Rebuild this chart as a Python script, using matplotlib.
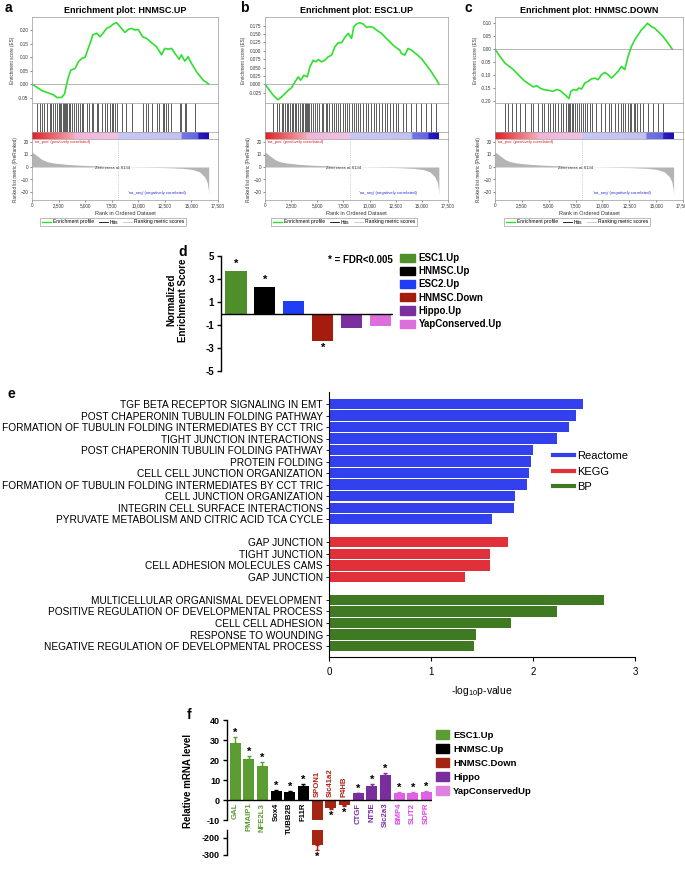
import matplotlib
matplotlib.use("Agg")
import matplotlib.pyplot as plt
import numpy as np
from matplotlib.colors import LinearSegmentedColormap
from matplotlib.lines import Line2D
from matplotlib.patches import Patch

plt.rcParams["font.family"] = ["Liberation Sans", "DejaVu Sans"]
plt.rcParams["mathtext.default"] = "regular"

W, H = 685, 874

# ---------------- panels a-c: GSEA enrichment plots ----------------
GSEA_TITLES = ["Enrichment plot: HNMSC.UP", "Enrichment plot: ESC1.UP",
               "Enrichment plot: HNMSC.DOWN"]

RANK_A = [0, 469, 938, 1406, 2031, 2344, 2813, 3063, 3281, 3438, 3656, 4063,
          4375, 4688, 5000, 5219, 5469, 5719, 6094, 6406, 6719, 7031, 7344,
          7656, 7969, 8281, 8750, 9063, 9375, 9688, 10000, 10406, 10781,
          11250, 11719, 12188, 12500, 12813, 13125, 13438, 13844, 14063,
          14375, 14688, 15000, 15469, 16094, 16625]
ES_A = [0.000, -0.012, -0.024, -0.031, -0.040, -0.050, -0.049, -0.036, 0.003,
        0.028, 0.052, 0.058, 0.083, 0.095, 0.099, 0.124, 0.151, 0.182, 0.188,
        0.175, 0.190, 0.206, 0.212, 0.222, 0.227, 0.212, 0.191, 0.202, 0.206,
        0.200, 0.202, 0.175, 0.169, 0.153, 0.138, 0.108, 0.132, 0.129, 0.132,
        0.114, 0.092, 0.108, 0.085, 0.101, 0.077, 0.046, 0.015, 0.000]

RANK_B = [0, 318, 796, 1114, 1273, 1750, 2227, 2546, 2864, 3182, 3405, 3723,
          4041, 4296, 4614, 4868, 5091, 5409, 5728, 6046, 6364, 6682, 7000,
          7318, 7637, 7955, 8273, 8496, 8750, 9069, 9387, 9705, 10023, 10342,
          10660, 11137, 11614, 11932, 12251, 12569, 12887, 13046, 13364,
          13682, 14000, 14478, 14955, 15432, 15909, 16387, 16641]
ES_B = [0.000, -0.013, -0.033, -0.043, -0.046, -0.033, -0.018, -0.010, 0.007,
        0.022, 0.012, 0.027, 0.022, 0.052, 0.072, 0.067, 0.074, 0.067, 0.072,
        0.082, 0.087, 0.112, 0.124, 0.124, 0.140, 0.152, 0.137, 0.172, 0.180,
        0.184, 0.180, 0.170, 0.172, 0.170, 0.162, 0.152, 0.137, 0.127, 0.117,
        0.109, 0.102, 0.092, 0.087, 0.107, 0.102, 0.090, 0.077, 0.057, 0.037,
        0.014, 0.000]

RANK_C = [0, 465, 929, 1239, 1703, 2168, 2478, 2787, 3252, 3562, 3871, 4181,
          4491, 4955, 5420, 5729, 6039, 6504, 6875, 7061, 7278, 7588, 7804,
          8052, 8362, 8672, 8981, 9291, 9601, 9910, 10220, 10530, 10840,
          11149, 11459, 11769, 12078, 12388, 12698, 13007, 13317, 13627,
          13937, 14184, 14556, 14866, 15175, 15640, 16104, 16507]
ES_C = [0.000, -0.028, -0.054, -0.064, -0.079, -0.099, -0.112, -0.124,
        -0.137, -0.146, -0.141, -0.150, -0.156, -0.159, -0.163, -0.156,
        -0.159, -0.176, -0.191, -0.163, -0.156, -0.159, -0.150, -0.154,
        -0.131, -0.124, -0.115, -0.112, -0.118, -0.099, -0.090, -0.099,
        -0.112, -0.099, -0.086, -0.067, -0.079, -0.028, 0.010, 0.036, 0.055,
        0.074, 0.087, 0.100, 0.087, 0.081, 0.068, 0.049, 0.023, 0.000]

HITS_A = [469, 719, 938, 1156, 1406, 1656, 1781, 1969, 2125, 2344, 2500, 2656,
          2750, 2875, 2969, 3063, 3156, 3281, 3438, 3594, 3750, 3906, 4156,
          4375, 4531, 4688, 4844, 5219, 5406, 5625, 5781, 6094, 6250, 6563,
          6875, 7031, 7344, 7500, 7656, 7813, 7969, 8438, 8844, 9375, 10469,
          10719, 10938, 11250, 11719, 11969, 12344, 12438, 12563, 12813,
          13125, 13906, 14063, 14375, 14531, 15313]
HITS_B = [732, 1114, 1368, 1591, 1750, 1909, 2068, 2227, 2387, 2546, 2705,
          2864, 2959, 3182, 3341, 3500, 3659, 3818, 3914, 4041, 4137, 4232,
          4359, 4550, 4773, 4996, 5187, 5409, 5569, 5791, 5950, 6141, 6364,
          6586, 6777, 6936, 7159, 7414, 7637, 7860, 8050, 8273, 8496, 8687,
          8910, 9132, 9387, 9641, 9864, 10182, 10405, 10660, 10914, 11232,
          11455, 11678, 11932, 12251, 12505, 12728, 13205, 13523, 14000,
          14414, 14955, 15432, 15909, 16323]
HITS_C = [929, 1177, 1610, 1951, 2323, 2787, 3345, 3562, 3964, 4336, 4584,
          4893, 5110, 5358, 5575, 5822, 6132, 6349, 6566, 6814, 6907, 7000,
          7123, 7278, 7433, 7588, 7804, 7990, 8145, 8362, 8610, 8826, 9043,
          9446, 9911, 10282, 10592, 10840, 11150, 11460, 11770, 11925, 12140,
          12388, 12543, 12698, 12946, 13069, 13255, 13472, 13782, 14246,
          14711, 15175, 15640]

ES_TICKS_A = [-0.05, 0.00, 0.05, 0.10, 0.15, 0.20]
ES_TICKS_B = [-0.025, 0.000, 0.025, 0.050, 0.075, 0.100, 0.125, 0.150, 0.175]
ES_TICKS_C = [-0.20, -0.15, -0.10, -0.05, 0.00, 0.05, 0.10]

METRIC_RANK = [0, 313, 625, 938, 1406, 2031, 3281, 4844, 6406, 8134, 11094,
               12656, 14219, 15156, 15781, 16250, 16469, 16594, 16625]
METRIC_VALUE = [12, 10, 8, 6, 4.3, 3.2, 2.1, 1.3, 0.8, 0, -0.3, -0.5, -1.1,
                -2.1, -4, -8, -12, -18, -22]
N_RANKED = 16625
ZERO_CROSS = 8134
RANK_TICKS = [0, 2500, 5000, 7500, 10000, 12500, 15000, 17500]
METRIC_TICKS = [-20, -10, 0, 10, 20]

# ---------------- panel d: NES ----------------
NES_SETS = ["ESC1.Up", "HNMSC.Up", "ESC2.Up", "HNMSC.Down", "Hippo.Up",
            "YapConserved.Up"]
NES_VALUES = [3.7, 2.3, 1.1, -2.4, -1.3, -1.05]
NES_SIG = [True, True, False, True, False, False]
NES_TICKS = [5, 3, 1, -1, -3, -5]

# ---------------- panel e: pathway enrichment ----------------
E_TERMS = [
    "TGF BETA RECEPTOR SIGNALING IN EMT",
    "POST CHAPERONIN TUBULIN FOLDING PATHWAY",
    "FORMATION OF TUBULIN FOLDING INTERMEDIATES BY CCT TRIC",
    "TIGHT JUNCTION INTERACTIONS",
    "POST CHAPERONIN TUBULIN FOLDING PATHWAY",
    "PROTEIN FOLDING",
    "CELL CELL JUNCTION ORGANIZATION",
    "FORMATION OF TUBULIN FOLDING INTERMEDIATES BY CCT TRIC",
    "CELL JUNCTION ORGANIZATION",
    "INTEGRIN CELL SURFACE INTERACTIONS",
    "PYRUVATE METABOLISM AND CITRIC ACID TCA CYCLE",
    "GAP JUNCTION",
    "TIGHT JUNCTION",
    "CELL ADHESION MOLECULES CAMS",
    "GAP JUNCTION",
    "MULTICELLULAR ORGANISMAL DEVELOPMENT",
    "POSITIVE REGULATION OF DEVELOPMENTAL PROCESS",
    "CELL CELL ADHESION",
    "RESPONSE TO WOUNDING",
    "NEGATIVE REGULATION OF DEVELOPMENTAL PROCESS",
]
E_VALUES = [2.49, 2.42, 2.35, 2.24, 2.00, 1.98, 1.96, 1.94, 1.82, 1.81, 1.60,
            1.75, 1.58, 1.58, 1.33,
            2.70, 2.24, 1.78, 1.44, 1.42]
E_SOURCE = ["Reactome"] * 11 + ["KEGG"] * 4 + ["BP"] * 5
E_SOURCES = ["Reactome", "KEGG", "BP"]

# ---------------- panel f: qPCR ----------------
F_GENES = ["GAL", "PMAIP1", "NFE2L3", "Sox4", "TUBB2B", "F11R", "SPON1",
           "Slc41a2", "P4HB", "CTGF", "NT5E", "Slc2a3", "BMP4", "SLIT2", "SDPR"]
F_GROUP = (["ESC1.Up"] * 3 + ["HNMSC.Up"] * 3 + ["HNMSC.Down"] * 3
           + ["Hippo"] * 3 + ["YapConservedUp"] * 3)
F_VALUES = [28.3, 20.5, 17.2, 4.3, 4.2, 7.2, -242, -4.0, -2.5, 3.3, 7.2, 12.5,
            3.7, 3.5, 4.0]
F_ERR = [3.0, 1.5, 1.8, 0.5, 0.5, 0.8, 28, 0.6, 0.5, 0.3, 0.6, 0.9, 0.3, 0.3,
         0.4]
F_GROUPS = ["ESC1.Up", "HNMSC.Up", "HNMSC.Down", "Hippo", "YapConservedUp"]
F_UPPER_TICKS = [40, 30, 20, 10, 0, -10]
F_LOWER_TICKS = [-200, -300]

# ---------------- styling ----------------
ES_GREEN = "#2ee02e"
NES_COLORS = {"ESC1.Up": "#4e8f2c", "HNMSC.Up": "#000000", "ESC2.Up": "#1f3df5",
              "HNMSC.Down": "#a31c0e", "Hippo.Up": "#7b2f9f",
              "YapConserved.Up": "#dc6fdc"}
E_COLORS = {"Reactome": "#3340ee", "KEGG": "#e0303a", "BP": "#3f7a22"}
F_BAR = {"ESC1.Up": "#5b9c33", "HNMSC.Up": "#000000", "HNMSC.Down": "#a62512",
         "Hippo": "#7a2d9c", "YapConservedUp": "#e060e6"}
F_TXT = {"ESC1.Up": "#5a9a32", "HNMSC.Up": "#000000", "HNMSC.Down": "#b01e10",
         "Hippo": "#7a2d9c", "YapConservedUp": "#e040e8"}
RANK_CMAP = LinearSegmentedColormap.from_list("rank", [
    (0.0, "#e41e26"), (0.235, "#f4aab0"), (0.24, "#f2b4dc"), (0.487, "#f0c2e2"),
    (0.49, "#c8c8f6"), (0.845, "#c2c2f2"), (0.85, "#7474e8"), (0.94, "#6464e2"),
    (0.945, "#2a1ec4"), (1.0, "#1c10b4")])

fig = plt.figure(figsize=(W / 100, H / 100), dpi=100)


def px_axes(x0, y0, x1, y1):
    return fig.add_axes([x0 / W, 1 - y1 / H, (x1 - x0) / W, (y1 - y0) / H])


def gsea_style(ax):
    for s in ax.spines.values():
        s.set_color("#9a9a9a")
        s.set_linewidth(0.5)
    ax.tick_params(labelsize=3.3, length=1.5, width=0.4, pad=1,
                   colors="#333333")


def gsea_panel(x0, x1, title, rank, es, hits, es_ticks, es_lim, fmt, legx):
    ax = px_axes(x0, 17, x1, 103)
    ax.plot(rank, es, color=ES_GREEN, lw=1.2)
    ax.axhline(0, color="#9a9a9a", lw=0.5)
    ax.set_xlim(0, 17500)
    ax.set_ylim(*es_lim)
    ax.set_xticks([])
    ax.set_yticks(es_ticks)
    ax.set_yticklabels([fmt % t for t in es_ticks])
    ax.set_ylabel("Enrichment score (ES)", fontsize=3.3, labelpad=2,
                  color="#333333")
    ax.set_title(title, fontsize=6.5, fontweight="bold", pad=3)
    gsea_style(ax)

    hx = px_axes(x0, 103, x1, 132)
    hx.vlines(hits, 0, 1, color="black", lw=0.45)
    hx.set_xlim(0, 17500)
    hx.set_ylim(0, 1)
    hx.set_xticks([])
    hx.set_yticks([])
    gsea_style(hx)

    cx = px_axes(x0, 132, x1, 139)
    cx.imshow(np.linspace(0, 1, 400)[None, :], cmap=RANK_CMAP, aspect="auto",
              extent=[0, N_RANKED, 0, 1])
    cx.set_xlim(0, 17500)
    cx.set_ylim(0, 1)
    cx.set_xticks([])
    cx.set_yticks([])
    gsea_style(cx)

    mx = px_axes(x0, 139, x1, 200)
    mx.fill_between(METRIC_RANK, METRIC_VALUE, 0, color="#b4b4b4", lw=0)
    mx.axvline(ZERO_CROSS, color="#aaaaaa", lw=0.4, ls=(0, (2, 2)))
    mx.set_xlim(0, 17500)
    mx.set_ylim(-26.4, 22.4)
    mx.set_yticks(METRIC_TICKS)
    mx.set_xticks(RANK_TICKS)
    mx.set_xticklabels([f"{t:,}" for t in RANK_TICKS])
    mx.set_xlabel("Rank in Ordered Dataset", fontsize=4, labelpad=2,
                  color="#333333")
    mx.set_ylabel("Ranked list metric (PreRanked)", fontsize=3.3, labelpad=2,
                  color="#333333")
    mx.text(150, 21.5, "'na_pos' (positively correlated)", fontsize=3.1,
            color="#e02020", va="top")
    mx.text(ZERO_CROSS - 600, -1, f"Zero cross at {ZERO_CROSS}", fontsize=3.1,
            color="#333333", ha="center", va="center")
    mx.text(11800, -20.5, "'na_neg' (negatively correlated)", fontsize=3.1,
            color="#3030e0", ha="center", va="center")
    gsea_style(mx)

    handles = [Line2D([], [], color=ES_GREEN, lw=1.0),
               Line2D([], [], color="black", lw=0.6),
               Line2D([], [], color="#c8c8c8", lw=0.6)]
    leg = fig.legend(handles, ["Enrichment profile", "Hits",
                               "Ranking metric scores"],
                     loc="center", bbox_to_anchor=(legx / W, 1 - 222 / H),
                     ncol=3, fontsize=3.6, frameon=True, fancybox=False,
                     edgecolor="#888888", handlelength=1.8, columnspacing=0.9,
                     handletextpad=0.4, borderpad=0.35)
    leg.get_frame().set_linewidth(0.5)


gsea_panel(32, 218, GSEA_TITLES[0], RANK_A, ES_A, HITS_A, ES_TICKS_A,
           (-0.07, 0.248), "%.2f", 113)
gsea_panel(265, 448, GSEA_TITLES[1], RANK_B, ES_B, HITS_B, ES_TICKS_B,
           (-0.056, 0.201), "%.3f", 344)
gsea_panel(495, 683, GSEA_TITLES[2], RANK_C, ES_C, HITS_C, ES_TICKS_C,
           (-0.208, 0.124), "%.2f", 577)

for letter, x, y in [("a", 5, 8), ("b", 240, 8), ("c", 465, 8),
                     ("d", 178, 252), ("e", 8, 394), ("f", 187, 715)]:
    fig.text(x / W, 1 - y / H, letter, fontsize=10, fontweight="bold",
             va="center", ha="left")

# ---------------- panel d ----------------
ax_d = px_axes(221, 256, 393, 371)
xd = np.arange(len(NES_SETS))
ax_d.bar(xd, NES_VALUES, width=0.73, color=[NES_COLORS[s] for s in NES_SETS])
ax_d.axhline(0, color="black", lw=1.0)
ax_d.set_xlim(-0.52, 5.43)
ax_d.set_ylim(-5, 5)
ax_d.set_xticks([])
ax_d.set_yticks(NES_TICKS)
ax_d.set_yticklabels([str(t) for t in NES_TICKS], fontweight="bold")
ax_d.tick_params(axis="y", labelsize=7, length=3, width=1, pad=2)
for s in ["top", "right", "bottom"]:
    ax_d.spines[s].set_visible(False)
ax_d.spines["left"].set_linewidth(1)
for i, (v, sig) in enumerate(zip(NES_VALUES, NES_SIG)):
    if sig:
        off = 5 if v > 0 else -5
        ax_d.annotate("*", (xd[i], v), xytext=(0, off), textcoords="offset points",
                      ha="center", va="center", fontsize=8, fontweight="bold")
ax_d.set_ylabel("Normalized\nEnrichment Score", fontsize=7, fontweight="bold")
ax_d.yaxis.set_label_coords((188 - 221) / 172, (371 - 300) / 115)
fig.text(328 / W, 1 - 260 / H, "* = FDR<0.005", fontsize=7, fontweight="bold",
         va="center")
ax_d.legend(handles=[Patch(color=NES_COLORS[s], label=s) for s in NES_SETS],
            loc="upper left", bbox_to_anchor=(400 / W, 1 - 253 / H),
            bbox_transform=fig.transFigure, frameon=False,
            prop={"size": 7, "weight": "bold"}, handlelength=1.5,
            handleheight=0.9, labelspacing=0.33, handletextpad=0.4,
            borderaxespad=0, borderpad=0)

# ---------------- panel e ----------------
ax_e = px_axes(329, 392, 635, 657)
pos, slot, prev = [], 0, None
for src in E_SOURCE:
    if prev is not None and src != prev:
        slot += 1
    pos.append(slot)
    slot += 1
    prev = src
ax_e.barh(pos, E_VALUES, height=0.9, color=[E_COLORS[s] for s in E_SOURCE])
ax_e.set_xlim(0, 3)
ax_e.set_ylim(21.95, -1.04)
ax_e.set_yticks(pos)
ax_e.set_yticklabels(E_TERMS, fontsize=7.3)
ax_e.set_xticks([0, 1, 2, 3])
ax_e.tick_params(axis="x", labelsize=7, length=3, width=0.8, pad=4)
ax_e.tick_params(axis="y", length=2.5, width=0.6, pad=2)
for s in ["top", "right"]:
    ax_e.spines[s].set_visible(False)
ax_e.spines["left"].set_linewidth(0.8)
ax_e.spines["bottom"].set_linewidth(0.8)
ax_e.set_xlabel("-log$_{10}$p-value", fontsize=7.5, labelpad=5)
ax_e.legend(handles=[Line2D([], [], color=E_COLORS[s], lw=3, label=s)
                     for s in E_SOURCES],
            loc="upper left", bbox_to_anchor=(553 / W, 1 - 451 / H),
            bbox_transform=fig.transFigure, frameon=False, fontsize=8,
            handlelength=1.9, labelspacing=0.5, handletextpad=0.3,
            borderaxespad=0, borderpad=0)

# ---------------- panel f ----------------
ax_fu = px_axes(227, 720, 432, 820)
ax_fl = px_axes(227, 830, 432, 855)
ax_fl.patch.set_visible(False)
ax_fu.set_zorder(ax_fl.get_zorder() + 1)
ax_fu.patch.set_visible(False)
xf = np.arange(len(F_GENES))
for ax in (ax_fu, ax_fl):
    ax.bar(xf, F_VALUES, width=0.8, color=[F_BAR[g] for g in F_GROUP])
    for i, (v, e, grp) in enumerate(zip(F_VALUES, F_ERR, F_GROUP)):
        err = [[e], [0]] if v < 0 else [[0], [e]]
        ax.errorbar(xf[i], v, yerr=err, fmt="none", ecolor=F_BAR[grp],
                    elinewidth=1.0, capsize=1.5, capthick=1.0)
    ax.set_xlim(-0.59, 14.41)
    ax.set_xticks([])
    for s in ["top", "right", "bottom"]:
        ax.spines[s].set_visible(False)
    ax.spines["left"].set_linewidth(1)
    ax.tick_params(axis="y", labelsize=6.5, length=3, width=1, pad=2)
ax_fu.set_ylim(-10, 40)
ax_fu.set_yticks(F_UPPER_TICKS)
ax_fu.set_yticklabels([str(t) for t in F_UPPER_TICKS], fontweight="bold")
ax_fu.axhline(0, color="black", lw=1.0)
ax_fl.set_ylim(-300, -153)
ax_fl.set_yticks(F_LOWER_TICKS)
ax_fl.set_yticklabels([str(t) for t in F_LOWER_TICKS], fontweight="bold")

for i, (g, v, e, grp) in enumerate(zip(F_GENES, F_VALUES, F_ERR, F_GROUP)):
    end = v + e if v > 0 else v - e
    ax = ax_fl if end < -10 else ax_fu
    off = 3 if v > 0 else -5
    ax.annotate("*", (xf[i], end), xytext=(0, off), textcoords="offset points",
                ha="center", va="center", fontsize=8, fontweight="bold",
                annotation_clip=False)
    ax_fu.annotate(g, (xf[i], 0), xytext=(0, -2 if v > 0 else 2),
                   textcoords="offset points", rotation=90, ha="center",
                   va="top" if v > 0 else "bottom", fontsize=5.6,
                   fontweight="bold", color=F_TXT[grp])

fig.text(188 / W, 1 - 781 / H, "Relative mRNA level", rotation=90,
         fontsize=7, fontweight="bold", ha="center", va="center")
ax_fu.legend(handles=[Patch(color=F_BAR[g] if g != "YapConservedUp" else "#e080e0",
                            label=g) for g in F_GROUPS],
             loc="upper left", bbox_to_anchor=(436 / W, 1 - 730 / H),
             bbox_transform=fig.transFigure, frameon=False,
             prop={"size": 6.8, "weight": "bold"}, handlelength=1.4,
             handleheight=1.1, labelspacing=0.45, handletextpad=0.4,
             borderaxespad=0, borderpad=0)

fig.savefig("out.png", dpi=100)
